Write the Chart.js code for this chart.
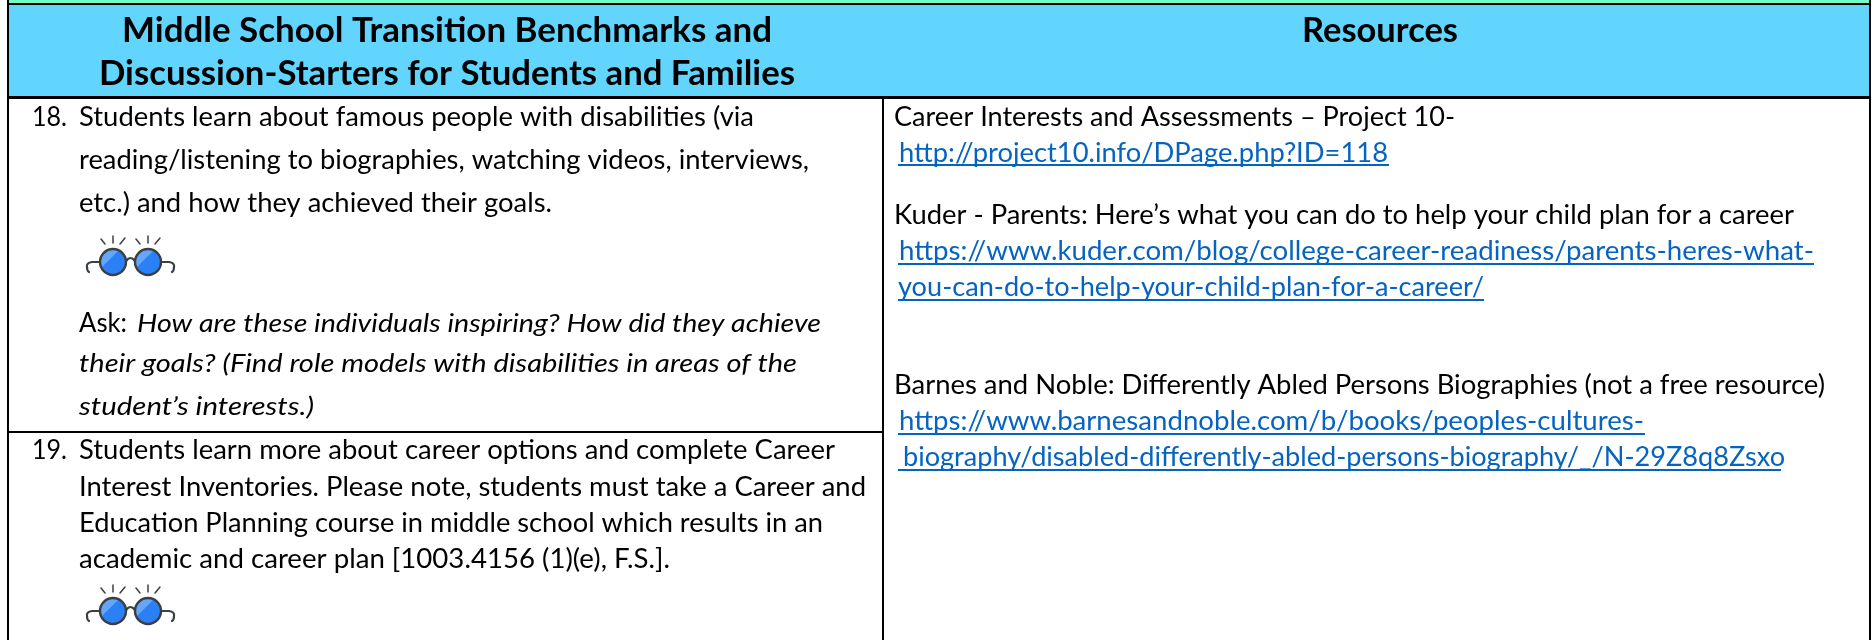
<!DOCTYPE html>
<html>
<head>
<meta charset="utf-8">
<title>Middle School Transition Benchmarks</title>
<script src="https://cdn.jsdelivr.net/npm/chart.js@4"></script>
<style>
  html, body { margin: 0; padding: 0; background: #fff; }
  canvas { display: block; }
</style>
</head>
<body>
<canvas id="tableChart" width="1875" height="640"></canvas>
<script>
// table text, one entry per printed line
const headerLines = ['Middle School Transition Benchmarks and', 'Discussion-Starters for Students and Families', 'Resources'];
const headerLeft = [122, 99, 1302];
const headerRight = [772, 795, 1458];
const headerBase = [42, 85, 42];

const itemNumbers = ['18.', '19.'];
const itemNumberBase = [126, 459];

const plainLines = [
  'Students learn about famous people with disabilities (via',
  'reading/listening to biographies, watching videos, interviews,',
  'etc.) and how they achieved their goals.',
  'Ask:',
  'Students learn more about career options and complete Career',
  'Interest Inventories. Please note, students must take a Career and',
  'Education Planning course in middle school which results in an',
  'academic and career plan [1003.4156 (1)(e), F.S.].',
  'Career Interests and Assessments \u2013 Project 10-',
  'Kuder - Parents: Here\u2019s what you can do to help your child plan for a career',
  'Barnes and Noble: Differently Abled Persons Biographies (not a free resource)'
];
const plainLeft = [79, 79, 79, 79, 79, 79, 79, 79, 894, 894, 894];
const plainRight = [754, 809, 552, 127, 835, 866, 823, 670, 1455, 1794, 1825];
const plainBase = [126, 169, 212, 332, 459, 496, 532, 568, 126, 224, 394];

const italicLines = [
  'How are these individuals inspiring? How did they achieve',
  'their goals? (Find role models with disabilities in areas of the',
  'student\u2019s interests.)'
];
const italicLeft = [137, 79, 79];
const italicRight = [821, 797, 314];
const italicBase = [332, 372, 415];

const linkLines = [
  'http://project10.info/DPage.php?ID=118',
  'https://www.kuder.com/blog/college-career-readiness/parents-heres-what-',
  'you-can-do-to-help-your-child-plan-for-a-career/',
  'https://www.barnesandnoble.com/b/books/peoples-cultures-',
  'biography/disabled-differently-abled-persons-biography/_/N-29Z8q8Zsxo'
];
const linkLeft = [899, 899, 898, 899, 903];
const linkRight = [1388, 1814, 1484, 1644, 1785];
const linkBase = [162, 260, 296, 430, 466];
const underlineLeft = [898, 898, 898, 898, 898];
const underlineRight = [1389, 1814, 1484, 1645, 1781];
const underlineY = [165, 264, 300, 434, 470];

// table rules: [x1, y1, x2, y2, width]
const rules = [
  [7, 4, 1871, 4, 2],
  [7, 97.5, 1871, 97.5, 3],
  [8, 0, 8, 640, 2],
  [1870, 0, 1870, 640, 2],
  [886.5, 5, 886.5, 96, 1],
  [883, 99, 883, 640, 2],
  [9, 432, 882, 432, 2]
];

const glassesX = [130, 130];
const glassesY = [256, 605];

// little reading glasses, used as the point image
function makeGlassesIcon() {
  const icon = document.createElement('canvas');
  icon.width = 100;
  icon.height = 52;
  const c = icon.getContext('2d');
  c.lineCap = 'round';
  const dark = '#3a3f45';
  [33, 68].forEach(cx => {
    c.save();
    c.beginPath();
    c.arc(cx, 32, 13, 0, Math.PI * 2);
    c.fillStyle = '#2b80f5';
    c.fill();
    c.clip();
    c.beginPath();
    c.moveTo(cx - 14, 32 + 8);
    c.lineTo(cx + 8, 32 - 14);
    c.lineTo(cx - 14, 32 - 14);
    c.closePath();
    c.fillStyle = '#64a6fa';
    c.fill();
    c.restore();
    c.beginPath();
    c.arc(cx, 32, 13, 0, Math.PI * 2);
    c.strokeStyle = dark;
    c.lineWidth = 2.4;
    c.stroke();
    // sparkle rays above each lens
    c.lineWidth = 1.5;
    [[-12, 9, -8, 14], [0, 6, 0, 13], [12, 8, 7, 14]].forEach(r => {
      c.beginPath();
      c.moveTo(cx + r[0], r[1]);
      c.lineTo(cx + r[2], r[3]);
      c.stroke();
    });
  });
  c.strokeStyle = dark;
  c.lineWidth = 2.2;
  // bridge
  c.beginPath();
  c.moveTo(46, 31);
  c.quadraticCurveTo(50.5, 25, 55, 31);
  c.stroke();
  // left and right arms with their hooks
  c.beginPath();
  c.moveTo(20, 32);
  c.lineTo(12, 32);
  c.quadraticCurveTo(6, 33, 7, 37);
  c.quadraticCurveTo(7, 41, 9, 42);
  c.stroke();
  c.beginPath();
  c.moveTo(81, 32);
  c.lineTo(89, 32);
  c.quadraticCurveTo(95, 33, 94, 37);
  c.quadraticCurveTo(94, 41, 92, 42);
  c.stroke();
  return icon;
}

function rectShade(x1, x2, top, bottom, color) {
  return {
    data: [{x: x1, y: top}, {x: x2, y: top}],
    showLine: true,
    borderWidth: 0,
    pointRadius: 0,
    backgroundColor: color,
    fill: {value: bottom}
  };
}

function ruleLine(x1, y1, x2, y2, width, color) {
  return {
    data: [{x: x1, y: y1}, {x: x2, y: y2}],
    showLine: true,
    borderColor: color,
    borderWidth: width,
    pointRadius: 0,
    fill: false
  };
}

// draws one line squeezed to the width it has in the source
function fitText(chart, text, left, right, base, font, color) {
  const ctx = chart.ctx;
  const xs = chart.scales.x;
  const ys = chart.scales.y;
  const x1 = xs.getPixelForValue(left);
  const x2 = xs.getPixelForValue(right);
  ctx.save();
  ctx.font = font;
  ctx.fillStyle = color;
  ctx.textBaseline = 'alphabetic';
  const w = ctx.measureText(text).width;
  ctx.translate(x1, ys.getPixelForValue(base));
  ctx.scale((x2 - x1) / w, 1);
  ctx.fillText(text, 0, 0);
  ctx.restore();
}

const tableText = {
  id: 'tableText',
  afterDatasetsDraw(chart) {
    headerLines.forEach((t, i) => fitText(chart, t, headerLeft[i], headerRight[i], headerBase[i], 'bold 34px Lato', '#000'));
    plainLines.forEach((t, i) => fitText(chart, t, plainLeft[i], plainRight[i], plainBase[i], '26px Lato', '#000'));
    italicLines.forEach((t, i) => fitText(chart, t, italicLeft[i], italicRight[i], italicBase[i], 'italic 26px Lato', '#000'));
    linkLines.forEach((t, i) => fitText(chart, t, linkLeft[i], linkRight[i], linkBase[i], '26px Lato', '#0563C1'));
    itemNumbers.forEach((t, i) => fitText(chart, t, 32, 67, itemNumberBase[i], '26px Lato', '#000'));
  }
};

const datasets = [
  rectShade(9, 1869, 0, 3, '#75FBC4'),
  rectShade(9, 1869, 5, 96, '#62D5FF')
];
rules.forEach(r => datasets.push(ruleLine(r[0], r[1], r[2], r[3], r[4], '#000')));
underlineY.forEach((y, i) => datasets.push(ruleLine(underlineLeft[i], y, underlineRight[i], y, 2, '#0563C1')));
datasets.push({
  data: glassesX.map((x, i) => ({x: x, y: glassesY[i]})),
  showLine: false,
  pointStyle: makeGlassesIcon(),
  pointRadius: 10
});

new Chart(document.getElementById('tableChart'), {
  type: 'scatter',
  data: {datasets: datasets},
  options: {
    responsive: false,
    animation: false,
    events: [],
    layout: {padding: 0, autoPadding: false},
    plugins: {legend: {display: false}, tooltip: {enabled: false}},
    scales: {
      x: {type: 'linear', min: 0, max: 1875, display: false},
      y: {type: 'linear', min: 0, max: 640, reverse: true, display: false}
    }
  },
  plugins: [tableText]
});
</script>
</body>
</html>
